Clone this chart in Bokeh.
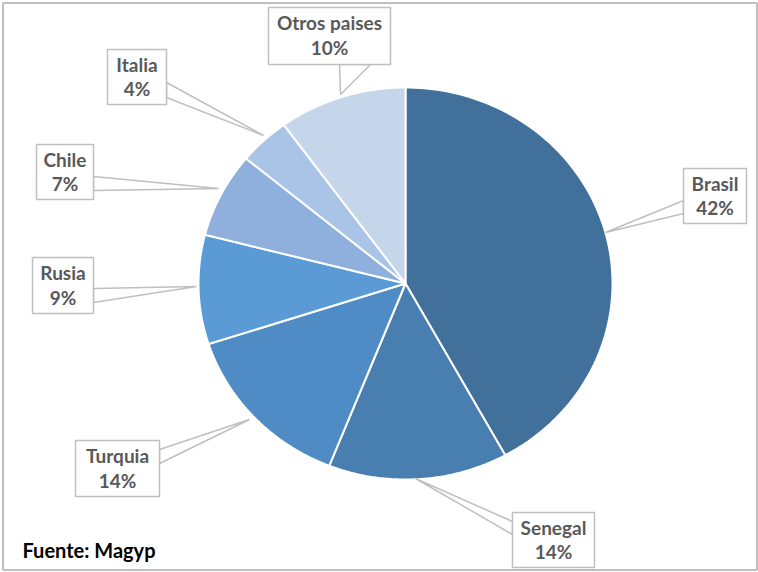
import numpy as np
from bokeh.plotting import figure
from bokeh.core.properties import value
from bokeh.embed import file_html
from bokeh.resources import INLINE

# ---- data ----
countries = ["Brasil", "Senegal", "Turquia", "Rusia", "Chile", "Italia", "Otros paises"]
shares = [42, 14, 14, 9, 7, 4, 10]
labels_pct = ["42%", "14%", "14%", "9%", "7%", "4%", "10%"]
colors = ["#41709B", "#487EB0", "#4F8BC4", "#5B9BD5", "#8FB0DC", "#A9C4E6", "#C5D6EB"]
source_note = "Fuente: Magyp"

# ---- layout (pixels) ----
W, H = 758, 572
CX, CY, RX, RY = 405, 283, 207, 196

# label boxes: left, top, right, bottom; pointer base points (2) and tip
boxes = {
    "Brasil":       ((683, 168, 746, 223), [(683, 200), (683, 213)], (605, 232)),
    "Senegal":      ((512, 512, 594, 567), [(512, 521), (512, 534)], (415, 478)),
    "Turquia":      ((75, 440, 159, 496), [(159, 449), (159, 463)], (249, 419)),
    "Rusia":        ((32, 257, 93, 313), [(93, 288), (93, 302)], (196, 286)),
    "Chile":        ((36, 144, 93, 199), [(93, 176), (93, 190)], (218, 188)),
    "Italia":       ((107, 49, 166, 104), [(166, 82), (166, 97)], (263, 135)),
    "Otros paises": ((268, 7, 390, 64), [(339, 64), (370, 64)], (340, 94)),
}

p = figure(width=W, height=H, x_range=(0, W), y_range=(H, 0),
           output_backend="svg", toolbar_location=None, min_border=0)
p.axis.visible = False
p.grid.visible = False
p.outline_line_color = None
p.background_fill_color = "white"

# outer frame
p.quad(left=[2.5], right=[756.5], top=[2.5], bottom=[569.5],
       fill_color=None, line_color="#BFBFBF", line_width=2)

# pie slices (elliptical, clockwise from top)
total = float(sum(shares))
cum = np.concatenate([[0], np.cumsum(shares)]) / total
xs, ys = [], []
for i in range(len(shares)):
    a0 = np.pi / 2 - 2 * np.pi * cum[i]
    a1 = np.pi / 2 - 2 * np.pi * cum[i + 1]
    t = np.linspace(a0, a1, 120)
    xs.append([CX] + list(CX + RX * np.cos(t)) + [CX])
    ys.append([CY] + list(CY - RY * np.sin(t)) + [CY])
p.patches(xs=xs, ys=ys, fill_color=colors, line_color="white", line_width=2)

# callouts
font = value("Lato")
for name, pct in zip(countries, labels_pct):
    (l, t, r, b), base, tip = boxes[name]
    px = [base[0][0], tip[0], base[1][0]]
    py = [base[0][1], tip[1], base[1][1]]
    p.patch(px, py, fill_color="white", line_color="#BFBFBF", line_width=1.5)
    p.quad(left=[l], right=[r], top=[t], bottom=[b],
           fill_color="white", line_color="#BFBFBF", line_width=1.5)
    cx = (l + r) / 2
    p.text(x=[cx], y=[t + (b - t) * 0.27], text=[name], text_font=font,
           text_font_style="bold", text_font_size="19px", text_color="#595959",
           text_align="center", text_baseline="middle")
    p.text(x=[cx], y=[t + (b - t) * 0.71], text=[pct], text_font=font,
           text_font_style="bold", text_font_size="19px", text_color="#595959",
           text_align="center", text_baseline="middle")

p.text(x=[22], y=[549], text=[source_note], text_font=font, text_font_style="bold",
       text_font_size="20px", text_color="#000000", text_align="left",
       text_baseline="middle")

open("out.html", "w").write(file_html(p, INLINE))
